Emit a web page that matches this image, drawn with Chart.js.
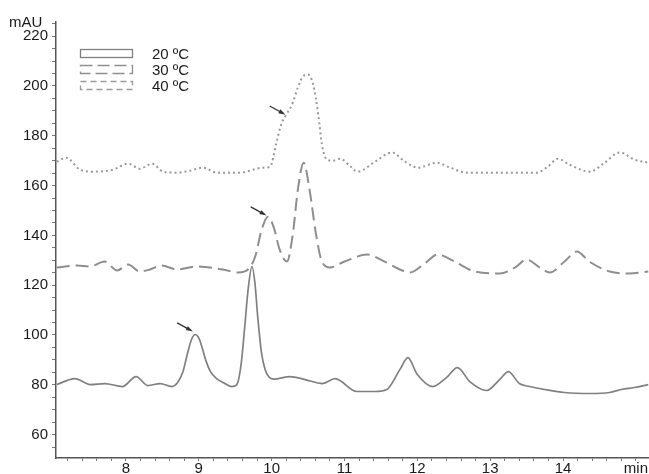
<!DOCTYPE html>
<html>
<head>
<meta charset="utf-8">
<script src="https://cdn.jsdelivr.net/npm/chart.js@4/dist/chart.umd.min.js"></script>
<style>
  html, body { margin: 0; padding: 0; background: #fff; }
  canvas { display: block; }
</style>
</head>
<body>
<canvas id="chromatogram" width="649" height="474"></canvas>
<script>
// retention time (min) and absorbance (mAU)
var t20 = [7.05,7.30,7.51,7.71,7.95,8.14,8.30,8.47,8.63,8.71,8.78,8.84,8.90,8.95,9.00,9.05,9.10,9.16,9.24,9.34,9.45,9.52,9.58,9.63,9.68,9.73,9.77,9.81,9.86,9.91,9.96,10.03,10.25,10.46,10.70,10.87,11.17,11.42,11.58,11.76,11.87,12.00,12.21,12.40,12.55,12.72,12.95,13.13,13.25,13.40,13.54,13.75,14.02,14.37,14.64,14.80,14.98,15.17];
var v20 = [80.1,82.5,80.1,80.5,79.3,83.3,79.7,80.5,79.3,80.9,85.0,92.0,98.2,100.2,98.8,94.5,89.5,85.3,82.6,80.8,79.3,80.0,88.0,103.0,119.0,127.5,121.0,107.0,93.0,86.1,83.2,82.3,83.3,82.1,80.5,82.5,77.3,77.3,78.1,86.1,90.9,84.1,79.3,82.9,86.9,81.3,77.7,82.1,85.3,80.5,79.3,78.1,76.9,76.5,76.9,78.1,78.9,80.1];

var t30 = [7.05,7.33,7.50,7.71,7.88,8.03,8.19,8.33,8.49,8.70,8.97,9.33,9.54,9.70,9.78,9.86,9.95,10.03,10.11,10.21,10.29,10.36,10.44,10.52,10.61,10.69,10.80,11.00,11.31,11.55,11.76,11.90,12.10,12.28,12.51,12.79,13.13,13.34,13.50,13.68,13.82,14.02,14.19,14.36,14.64,14.91,15.17];
var v30 = [127.1,127.9,127.5,129.5,125.9,128.3,125.5,126.3,127.9,126.3,127.5,126.3,125.1,127.1,132.0,142.0,147.5,143.1,134.3,129.5,140.3,158.4,169.2,158.4,140.3,129.5,127.1,129.5,132.3,129.5,126.3,125.1,128.7,132.3,129.5,125.5,124.7,127.1,130.3,127.1,125.1,129.5,133.5,129.5,125.5,124.7,125.5];

var t40 = [7.05,7.18,7.37,7.55,7.82,8.03,8.19,8.36,8.51,8.70,8.88,9.06,9.25,9.56,9.88,9.98,10.06,10.13,10.20,10.28,10.36,10.43,10.50,10.57,10.64,10.69,10.76,10.84,10.94,11.07,11.18,11.42,11.65,11.83,12.01,12.27,12.45,12.68,13.13,13.64,13.79,13.93,14.09,14.37,14.57,14.78,14.98,15.17];
var v40 = [169.6,171.2,166.4,165.6,166.4,168.8,166.8,168.8,165.6,165.2,166.0,167.2,165.2,165.2,167.2,167.6,176.5,184.5,188.5,192.5,199.4,203.8,204.6,200.6,188.5,176.5,170.4,170.0,170.8,168.0,165.6,169.6,173.3,169.6,167.2,169.2,167.2,165.2,165.2,165.2,167.6,170.8,168.4,165.6,169.2,173.3,170.4,169.2];

var seriesLabels = ['20 ºC', '30 ºC', '40 ºC'];

// arrows marking the shoulder peaks
var arrowT = [8.92, 9.93, 10.19];
var arrowV = [101.4, 148.0, 188.5];

var xTicks = [8, 9, 10, 11, 12, 13, 14, 15];
var yTicks = [60, 80, 100, 120, 140, 160, 180, 200, 220];

var FONT = '"Liberation Sans", Arial, sans-serif';

function pts(ts, vs) {
  return ts.map(function(t, i) { return { x: t, y: vs[i] }; });
}

var lineStyles = [
  { color: '#808080', dash: [], width: 1.7, legendDash: [] },
  { color: '#8e8e8e', dash: [13, 6], width: 2, legendDash: [12, 5] },
  { color: '#9a9a9a', dash: [2, 3], width: 2, legendDash: [6, 4] }
];

var data = {
  datasets: [
    { label: seriesLabels[0], data: pts(t20, v20) },
    { label: seriesLabels[1], data: pts(t30, v30) },
    { label: seriesLabels[2], data: pts(t40, v40) }
  ].map(function(ds, i) {
    ds.borderColor = lineStyles[i].color;
    ds.borderDash = lineStyles[i].dash;
    ds.borderWidth = lineStyles[i].width;
    ds.pointRadius = 0;
    ds.fill = false;
    ds.cubicInterpolationMode = 'monotone';
    return ds;
  })
};

// arrows, legend and unit label
var extras = {
  id: 'extras',
  afterDatasetsDraw: function(chart) {
    var ctx = chart.ctx, area = chart.chartArea;
    var x = chart.scales.x, y = chart.scales.y;
    ctx.save();

    ctx.strokeStyle = '#333';
    ctx.fillStyle = '#333';
    ctx.lineWidth = 1.3;
    arrowT.forEach(function(t, i) {
      var px = x.getPixelForValue(t), py = y.getPixelForValue(arrowV[i]);
      var ang = Math.atan2(8.5, 15.5);
      var len = 18, head = 7;
      ctx.beginPath();
      ctx.moveTo(px - len * Math.cos(ang), py - len * Math.sin(ang));
      ctx.lineTo(px - (head - 1) * Math.cos(ang), py - (head - 1) * Math.sin(ang));
      ctx.stroke();
      ctx.beginPath();
      ctx.moveTo(px, py);
      ctx.lineTo(px - head * Math.cos(ang) + 2.2 * Math.sin(ang), py - head * Math.sin(ang) - 2.2 * Math.cos(ang));
      ctx.lineTo(px - head * Math.cos(ang) - 2.2 * Math.sin(ang), py - head * Math.sin(ang) + 2.2 * Math.cos(ang));
      ctx.closePath();
      ctx.fill();
    });

    // legend
    ctx.font = '15px ' + FONT;
    ctx.textAlign = 'left';
    ctx.textBaseline = 'middle';
    seriesLabels.forEach(function(lbl, i) {
      var bx = area.left + 24.5, by = 49.5 + i * 16;
      ctx.setLineDash(lineStyles[i].legendDash);
      ctx.strokeStyle = lineStyles[i].color;
      ctx.lineWidth = 1.3;
      ctx.strokeRect(bx, by, 52, 8);
      ctx.setLineDash([]);
      ctx.fillStyle = '#1a1a1a';
      ctx.fillText(lbl, area.left + 96, by + 5);
    });

    ctx.font = '15px ' + FONT;
    ctx.textBaseline = 'alphabetic';
    ctx.fillText('mAU', 9, 27);
    ctx.restore();
  }
};

var ctx = document.getElementById('chromatogram').getContext('2d');
var chart = new Chart(ctx, {
  type: 'line',
  data: data,
  plugins: [extras],
  options: {
    responsive: false,
    animation: false,
    layout: { padding: { top: 22, right: 0, bottom: 0, left: 0 } },
    plugins: {
      legend: { display: false },
      tooltip: { enabled: false }
    },
    scales: {
      x: {
        type: 'linear',
        min: 7.04,
        max: 15.18,
        afterBuildTicks: function(s) {
          var arr = [];
          for (var k = 36; k <= 75; k++) arr.push({ value: k / 5 });
          s.ticks = arr;
        },
        afterFit: function(s) { s.height = 16; },
        grid: { drawOnChartArea: false, drawTicks: true, tickLength: 3, color: '#777' },
        border: { color: '#555', width: 1.5 },
        ticks: {
          autoSkip: false,
          maxRotation: 0,
          padding: -1,
          color: '#1a1a1a',
          font: { size: 15, family: FONT },
          callback: function(v) {
            var r = Math.round(v);
            if (Math.abs(v - r) > 1e-6 || xTicks.indexOf(r) < 0) return '';
            return r === 15 ? 'min' : String(r);
          }
        }
      },
      y: {
        min: 50.6,
        max: 225.7,
        afterBuildTicks: function(s) {
          var arr = [];
          for (var v = 55; v <= 225; v += 5) arr.push({ value: v });
          s.ticks = arr;
        },
        afterFit: function(s) { s.width = 56; },
        grid: { drawOnChartArea: false, drawTicks: true, tickLength: 4, color: '#777' },
        border: { color: '#555', width: 1.5 },
        ticks: {
          autoSkip: false,
          padding: 4,
          color: '#1a1a1a',
          font: { size: 15, family: FONT },
          callback: function(v) {
            return yTicks.indexOf(Math.round(v)) >= 0 ? String(Math.round(v)) : '';
          }
        }
      }
    }
  }
});
</script>
</body>
</html>
